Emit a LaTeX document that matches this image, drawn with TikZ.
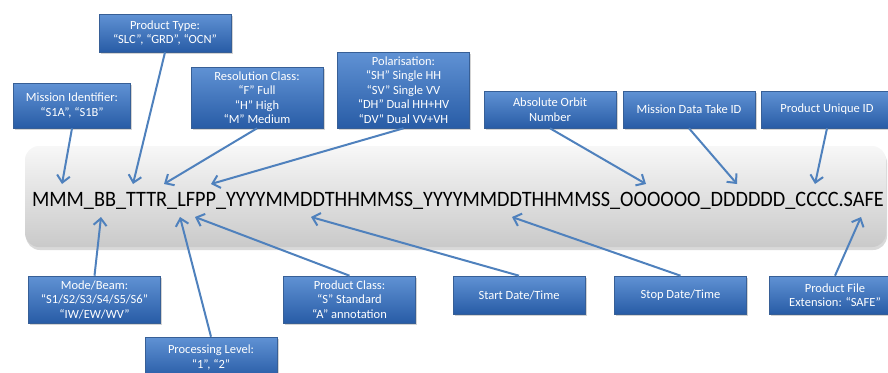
\documentclass[tikz,border=0pt]{standalone}
\usepackage{fontspec}
\setmainfont{Carlito}
\usepackage{tikz}
\usetikzlibrary{arrows.meta}
\usetikzlibrary{shadows}
\usepackage{xcolor}

\definecolor{boxtop}{RGB}{96,146,212}
\definecolor{boxbot}{RGB}{40,92,166}
\definecolor{boxedge}{RGB}{55,95,150}
\definecolor{arrblue}{RGB}{79,129,189}

\tikzset{
	infobox/.style={draw=boxedge, line width=0.6pt, top color=boxtop, bottom color=boxbot,
		text=white, align=center, font=\fontsize{12.5}{14.5}\selectfont, inner sep=1pt,
		minimum width=132pt, drop shadow={opacity=0.35, shadow xshift=1.5pt, shadow yshift=-1.5pt}},
	pointer/.style={draw=arrblue, line width=2pt, -{Straight Barb[length=7pt,width=13pt]}},
}

\begin{document}
\begin{tikzpicture}[x=1pt, y=-1pt]
			\useasboundingbox (0,0) rectangle (888,372);
			\clip (0,0) rectangle (888,372);
			
			% grey band with the file name
			\draw[draw=none, rounded corners=14pt, top color=gray!6, bottom color=gray!42,
				drop shadow={opacity=0.3, shadow xshift=1pt, shadow yshift=-3pt}]
				(25,146) rectangle (886,247);
			\node[xscale=0.92, transform shape] (fname) at (458,201) {\fontsize{22}{26}\selectfont
				MMM\_BB\_TTTR\_LFPP\_YYYYMMDDTHHMMSS\_YYYYMMDDTHHMMSS\_OOOOOO\_DDDDDD\_CCCC.SAFE};
			
			% boxes above
			\node[infobox, minimum width=117pt, minimum height=45pt] (mission) at (72,105.5) {Mission Identifier:\\“S1A”, “S1B”};
			\node[infobox, minimum height=38pt] (ptype) at (165,33) {Product Type:\\“SLC”, “GRD”, “OCN”};
			\node[infobox, minimum height=61pt] (resol) at (257,97.5) {Resolution Class:\\“F” Full\\“H” High\\“M” Medium};
			\node[infobox, minimum height=76pt] (polar) at (403.5,90) {Polarisation:\\“SH” Single HH\\“SV” Single VV\\“DH” Dual HH+HV\\“DV” Dual VV+VH};
			\node[infobox, minimum height=37pt] (orbit) at (550,109.5) {Absolute Orbit\\Number};
			\node[infobox, minimum height=37pt] (datatake) at (689,109.5) {Mission Data Take ID};
			\node[infobox, minimum height=37pt] (unique) at (827,109.5) {Product Unique ID};
			
			% boxes below
			\node[infobox, minimum height=47pt] (mode) at (94.5,299.5) {Mode/Beam:\\“S1/S2/S3/S4/S5/S6”\\“IW/EW/WV”};
			\node[infobox, minimum height=41pt] (level) at (211,357.5) {Processing Level:\\“1”, “2”};
			\node[infobox, minimum height=47pt] (pclass) at (349.5,299.5) {Product Class:\\“S” Standard\\“A” annotation};
			\node[infobox, minimum height=38pt] (start) at (519,295) {Start Date/Time};
			\node[infobox, minimum height=38pt] (stop) at (680.5,295) {Stop Date/Time};
			\node[infobox, minimum height=38pt] (ext) at (835,295) {Product File\\Extension: “SAFE”};
			
			% arrow ends on the file name
			\foreach \n/\x in {mission/62, ptype/133, resol/164, polar/211, orbit/646, datatake/737, unique/815}
			\coordinate (t-\n) at (\x,184);
			\foreach \n/\x in {mode/101, level/180, pclass/195, start/311, stop/512, ext/861}
			\coordinate (t-\n) at (\x,217);
			
			\foreach \n in {mission, ptype, resol, polar, orbit, datatake, unique}
			\draw[pointer] (\n.south) -- (t-\n);
			\foreach \n in {mode, level, pclass, start, stop, ext}
			\draw[pointer] (\n.north) -- (t-\n);
		\end{tikzpicture}
\end{document}
